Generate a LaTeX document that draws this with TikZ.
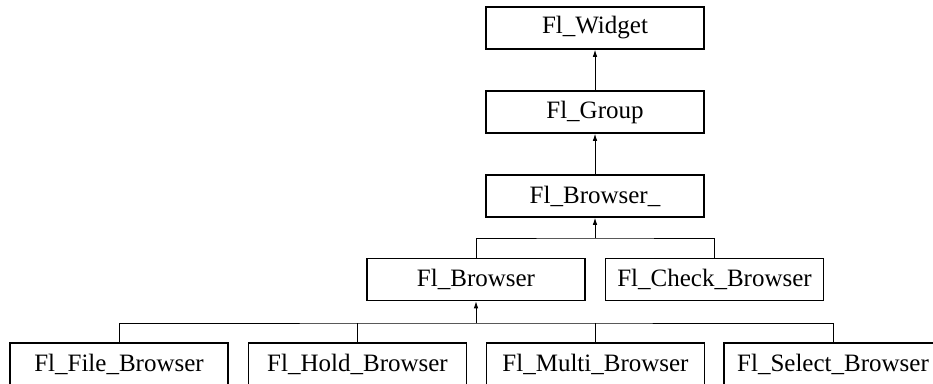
\documentclass[tikz,border=0pt]{standalone}
\usepackage{fontspec}
\setmainfont{Liberation Serif}
\usetikzlibrary{arrows.meta}
\begin{document}
\begin{tikzpicture}[x=1pt,y=-1pt,
  cls/.style={draw, line width=1.6pt, minimum width=218pt, minimum height=42pt, inner sep=0pt, font=\fontsize{25}{30}\selectfont},
  conn/.style={line width=0.8pt},
  inh/.style={line width=0.8pt, -{Latex[length=7pt,width=4.5pt]}}]
\useasboundingbox (0,0) rectangle (933,383);
\node[cls] (w)  at (595,28)    {Fl\_Widget};
\node[cls] (g)  at (595,112)   {Fl\_Group};
\node[cls] (b_) at (595,196)   {Fl\_Browser\_};
\node[cls] (b)  at (476,279.5) {Fl\_Browser};
\node[cls] (cb) at (714.5,279.5) {Fl\_Check\_Browser};
\node[cls] (fb) at (119,364)   {Fl\_File\_Browser};
\node[cls] (hb) at (357.5,364) {Fl\_Hold\_Browser};
\node[cls] (mb) at (595.5,364) {Fl\_Multi\_Browser};
\node[cls] (sb) at (833,364)   {Fl\_Select\_Browser};
\coordinate (bus1) at (595,238);
\coordinate (bus2) at (476,323);
\draw[inh] (g.north) -- (w.south);
\draw[inh] (b_.north) -- (g.south);
\draw[conn] (b.north) |- (bus1) -| (cb.north);
\draw[inh] (bus1) -- (b_.south);
\draw[conn] (fb.north) |- (bus2) -| (sb.north);
\draw[conn] (hb.north) -- (hb.north |- bus2);
\draw[conn] (mb.north) -- (mb.north |- bus2);
\draw[inh] (bus2) -- (b.south);
\end{tikzpicture}
\end{document}
